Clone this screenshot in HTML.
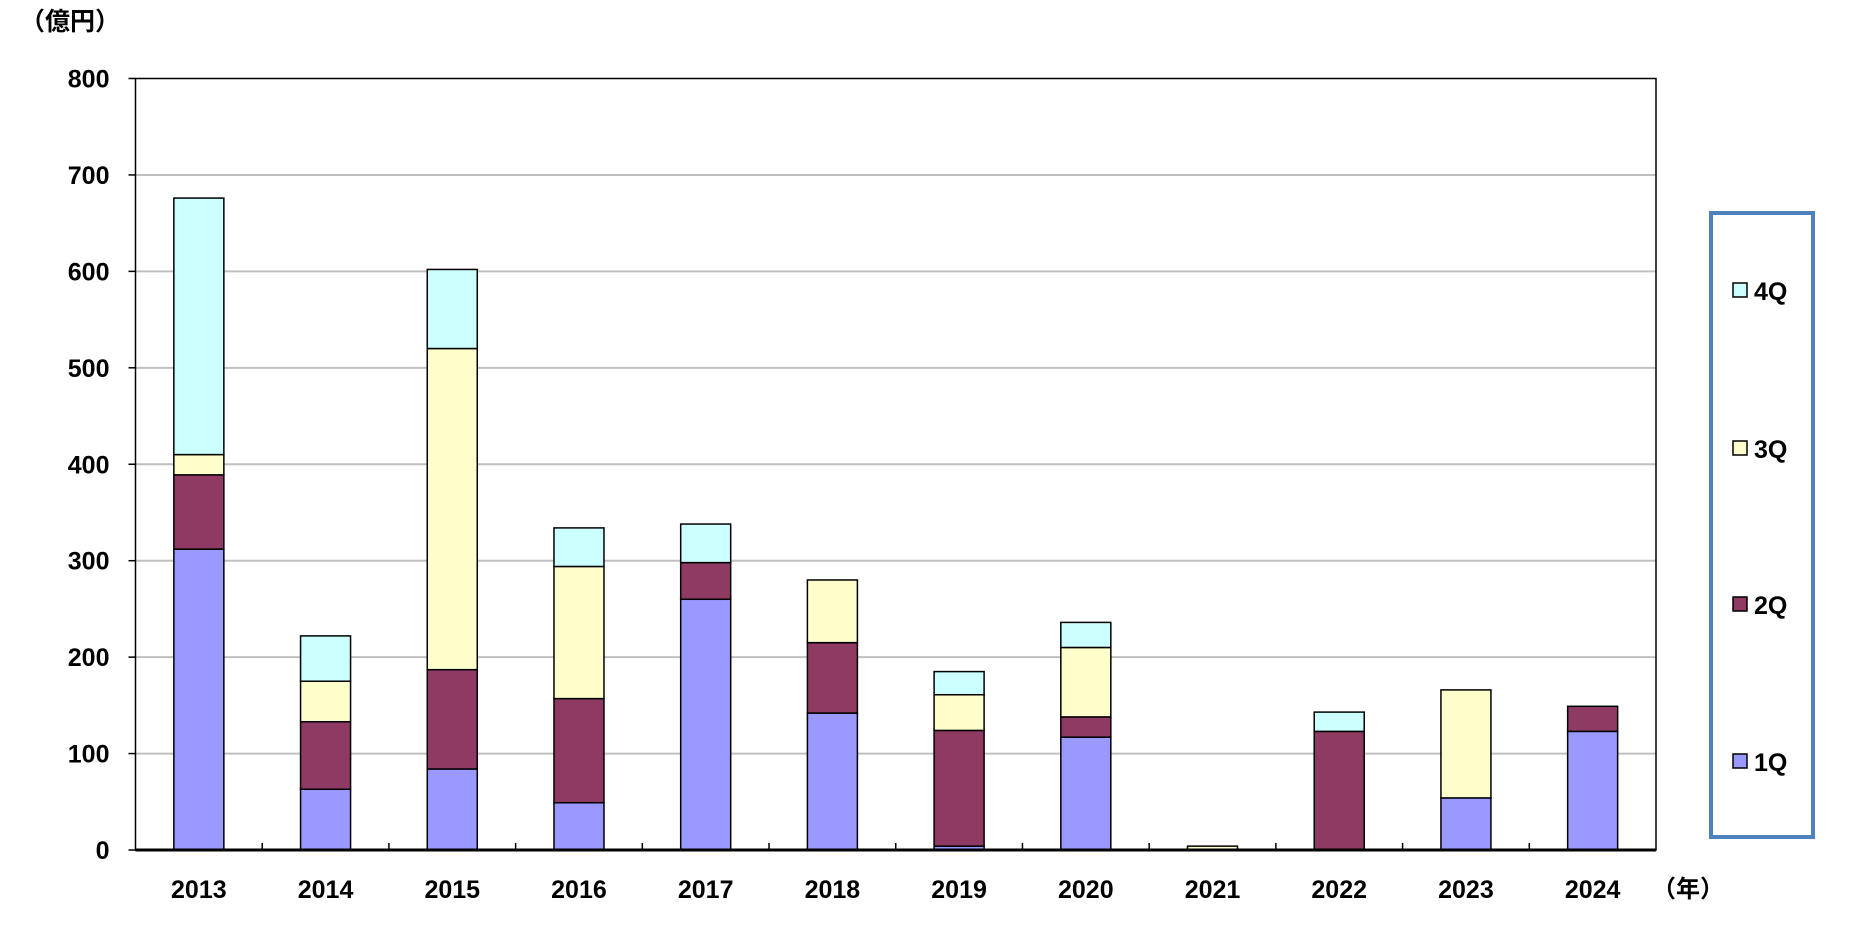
<!DOCTYPE html>
<html><head><meta charset="utf-8"><style>
body{margin:0;background:#fff;}
svg text{font-family:"Liberation Sans","Noto Sans CJK JP",sans-serif;}
</style></head><body>
<svg id="chart" width="1854" height="925" xmlns="http://www.w3.org/2000/svg">
<text x="20" y="30" font-size="25" font-weight="bold">（億円）</text>
<g id="grid"></g><g id="bars"></g><g id="axes"></g>
<rect x="1711" y="213" width="102" height="624" fill="#fff" stroke="#4F81BD" stroke-width="4"/>
<g id="legend"></g>
<text x="1652" y="897" font-size="24" font-weight="bold">（年）</text>
</svg>
<script>
const categories=["2013","2014","2015","2016","2017","2018","2019","2020","2021","2022","2023","2024"];
const q1=[312,63,84,49,260,142,4,117,0,0,54,123];
const q2=[77,70,103,108,38,73,120,21,0,123,0,26];
const q3=[21,42,333,137,0,65,37,72,4,0,112,0];
const q4=[266,47,82,40,40,0,24,26,0,20,0,0];
const yTicks=[0,100,200,300,400,500,600,700,800];
const seriesNames=["1Q","2Q","3Q","4Q"];
const colors=["#9999FF","#8E3A63","#FFFFCC","#CCFFFF"];
const L=135.5,R=1656,T=78.5,B=850,yMax=800;
const ns="http://www.w3.org/2000/svg";
const y=v=>B-(v/yMax)*(B-T);
const cw=(R-L)/categories.length;
const xc=i=>L+cw*(i+0.5);
function mk(tag,attrs,parent){const e=document.createElementNS(ns,tag);for(const k in attrs)e.setAttribute(k,attrs[k]);document.getElementById(parent).appendChild(e);return e;}
yTicks.forEach(t=>{
 if(t>0&&t<yMax){const g=mk("line",{x1:L,x2:R,y1:y(t),y2:y(t),stroke:"#c0c0c0","stroke-width":2},"grid");
 
 }
 const tl=mk("line",{x1:L-7,x2:L,y1:y(t),y2:y(t),stroke:"#000","stroke-width":1.5},"axes");
 
 
 const tx=mk("text",{x:L-26,y:y(t)+9,"text-anchor":"end","font-size":25,"font-weight":"bold"},"axes");
 tx.textContent=t;
 
 
});
const series=[q1,q2,q3,q4];
categories.forEach((c,i)=>{
 let base=0;
 series.forEach((s,k)=>{
  const v=s[i]; if(v<=0)return;
  const r=mk("rect",{x:xc(i)-25,y:y(base+v),width:50,height:y(base)-y(base+v),fill:colors[k],stroke:"#000","stroke-width":1.5},"bars");
  
  
  base+=v;
 });
 const lb=mk("text",{x:xc(i),y:898,"text-anchor":"middle","font-size":25,"font-weight":"bold"},"axes");
 lb.textContent=c;
 
 
 if(i>0){const tk=mk("line",{x1:L+cw*i,x2:L+cw*i,y1:B,y2:B-7,stroke:"#000","stroke-width":1.5},"axes");
 
 }
});
const pa=mk("rect",{x:L,y:T,width:R-L,height:B-T,fill:"none",stroke:"#000","stroke-width":1.5},"axes");


const xa=mk("line",{x1:L,x2:R,y1:B,y2:B,stroke:"#000","stroke-width":3},"axes");


const ly=[762,605,449,291];
seriesNames.forEach((n,k)=>{
 const sq=mk("rect",{x:1733,y:ly[k]-8,width:14,height:14,fill:colors[k],stroke:"#000","stroke-width":1.5},"legend");
 
 
 const t=mk("text",{x:1754,y:ly[k]+9,"font-size":25,"font-weight":"bold"},"legend");
 t.textContent=n;
 
 
});
</script>
</body></html>
